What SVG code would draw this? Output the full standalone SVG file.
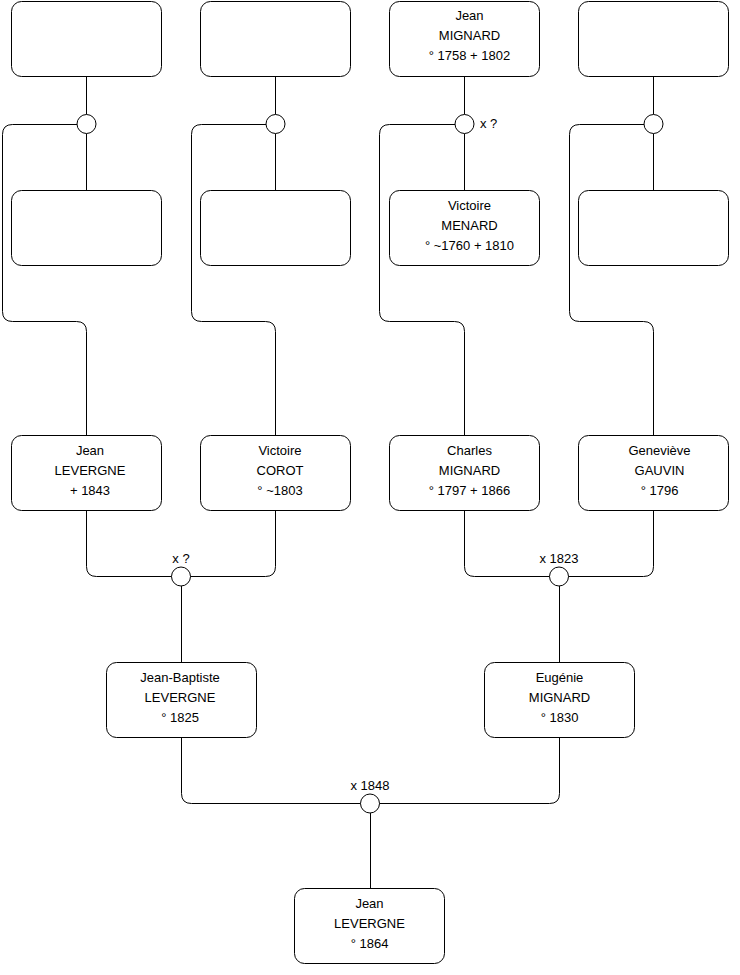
<svg xmlns="http://www.w3.org/2000/svg" width="740" height="975" viewBox="0 0 740 975">
<style>
.box{fill:#fff;stroke:#000;stroke-width:1}
.ln{fill:none;stroke:#000;stroke-width:1}
.c{fill:#fff;stroke:#000;stroke-width:1}
text{font-family:"Liberation Sans",Arial,sans-serif;font-size:13px;fill:#000}
.m{text-anchor:middle}
</style>
<rect width="740" height="975" fill="#fff"/>
<g id="connectors">
<path class="ln" d="M86.5,76.5V114.5M86.5,133.5V190.5"/>
<path class="ln" d="M275.5,76.5V114.5M275.5,133.5V190.5"/>
<path class="ln" d="M464.5,76.5V114.5M464.5,133.5V190.5"/>
<path class="ln" d="M653.5,76.5V114.5M653.5,133.5V190.5"/>
<path class="ln" d="M77,124.5H12.5Q2.5,124.5 2.5,134.5V311.5Q2.5,321.5 12.5,321.5H76.5Q86.5,321.5 86.5,331.5V435.5"/>
<path class="ln" d="M266,124.5H201.5Q191.5,124.5 191.5,134.5V311.5Q191.5,321.5 201.5,321.5H265.5Q275.5,321.5 275.5,331.5V435.5"/>
<path class="ln" d="M455,124.5H389.5Q379.5,124.5 379.5,134.5V311.5Q379.5,321.5 389.5,321.5H454.5Q464.5,321.5 464.5,331.5V435.5"/>
<path class="ln" d="M644,124.5H579.5Q569.5,124.5 569.5,134.5V311.5Q569.5,321.5 579.5,321.5H643.5Q653.5,321.5 653.5,331.5V435.5"/>
<path class="ln" d="M86.5,510.5V566.5Q86.5,576.5 96.5,576.5H172M275.5,510.5V566.5Q275.5,576.5 265.5,576.5H190M181.5,586V662.5"/>
<path class="ln" d="M464.5,510.5V566.5Q464.5,576.5 474.5,576.5H550M653.5,510.5V566.5Q653.5,576.5 643.5,576.5H568M559.5,586V662.5"/>
<path class="ln" d="M181.5,737.5V793.5Q181.5,803.5 191.5,803.5H361M559.5,737.5V793.5Q559.5,803.5 549.5,803.5H379M370.5,813V888.5"/>
</g>
<g id="union1"><circle class="c" cx="86.5" cy="124" r="9.5"/></g>
<g id="union2"><circle class="c" cx="275.5" cy="124" r="9.5"/></g>
<g id="union3"><circle class="c" cx="464.5" cy="124" r="9.5"/><text x="480" y="128">x ?</text></g>
<g id="union4"><circle class="c" cx="653.5" cy="124" r="9.5"/></g>
<g id="union5"><circle class="c" cx="181" cy="576.5" r="9.5"/><text class="m" x="181" y="563">x ?</text></g>
<g id="union6"><circle class="c" cx="559" cy="576.5" r="9.5"/><text class="m" x="559" y="563">x 1823</text></g>
<g id="union7"><circle class="c" cx="370" cy="803.5" r="9.5"/><text class="m" x="370" y="790">x 1848</text></g>

<g id="p1"><rect class="box" x="11.5" y="1.5" width="150" height="75" rx="10"/></g>
<g id="p2"><rect class="box" x="200.5" y="1.5" width="150" height="75" rx="10"/></g>
<g id="p3"><rect class="box" x="389.5" y="1.5" width="150" height="75" rx="10"/>
<text class="m" x="469.5" y="20">Jean</text><text class="m" x="469.5" y="40">MIGNARD</text><text class="m" x="469.5" y="60">° 1758 + 1802</text></g>
<g id="p4"><rect class="box" x="578.5" y="1.5" width="150" height="75" rx="10"/></g>

<g id="p5"><rect class="box" x="11.5" y="190.5" width="150" height="75" rx="10"/></g>
<g id="p6"><rect class="box" x="200.5" y="190.5" width="150" height="75" rx="10"/></g>
<g id="p7"><rect class="box" x="389.5" y="190.5" width="150" height="75" rx="10"/>
<text class="m" x="469.5" y="210">Victoire</text><text class="m" x="469.5" y="230">MENARD</text><text class="m" x="469.5" y="250">° ~1760 + 1810</text></g>
<g id="p8"><rect class="box" x="578.5" y="190.5" width="150" height="75" rx="10"/></g>

<g id="p9"><rect class="box" x="11.5" y="435.5" width="150" height="75" rx="10"/>
<text class="m" x="90" y="455">Jean</text><text class="m" x="90" y="475">LEVERGNE</text><text class="m" x="90" y="495">+ 1843</text></g>
<g id="p10"><rect class="box" x="200.5" y="435.5" width="150" height="75" rx="10"/>
<text class="m" x="280" y="455">Victoire</text><text class="m" x="280" y="475">COROT</text><text class="m" x="280" y="495">° ~1803</text></g>
<g id="p11"><rect class="box" x="389.5" y="435.5" width="150" height="75" rx="10"/>
<text class="m" x="469.5" y="455">Charles</text><text class="m" x="469.5" y="475">MIGNARD</text><text class="m" x="469.5" y="495">° 1797 + 1866</text></g>
<g id="p12"><rect class="box" x="578.5" y="435.5" width="150" height="75" rx="10"/>
<text class="m" x="659.5" y="455">Geneviève</text><text class="m" x="659.5" y="475">GAUVIN</text><text class="m" x="659.5" y="495">° 1796</text></g>

<g id="p13"><rect class="box" x="106.5" y="662.5" width="150" height="75" rx="10"/>
<text class="m" x="180" y="682">Jean-Baptiste</text><text class="m" x="180" y="702">LEVERGNE</text><text class="m" x="180" y="722">° 1825</text></g>
<g id="p14"><rect class="box" x="484.5" y="662.5" width="150" height="75" rx="10"/>
<text class="m" x="559.5" y="682">Eugénie</text><text class="m" x="559.5" y="702">MIGNARD</text><text class="m" x="559.5" y="722">° 1830</text></g>

<g id="p15"><rect class="box" x="294.5" y="888.5" width="150" height="75" rx="10"/>
<text class="m" x="369.5" y="908">Jean</text><text class="m" x="369.5" y="928">LEVERGNE</text><text class="m" x="369.5" y="948">° 1864</text></g>
</svg>
